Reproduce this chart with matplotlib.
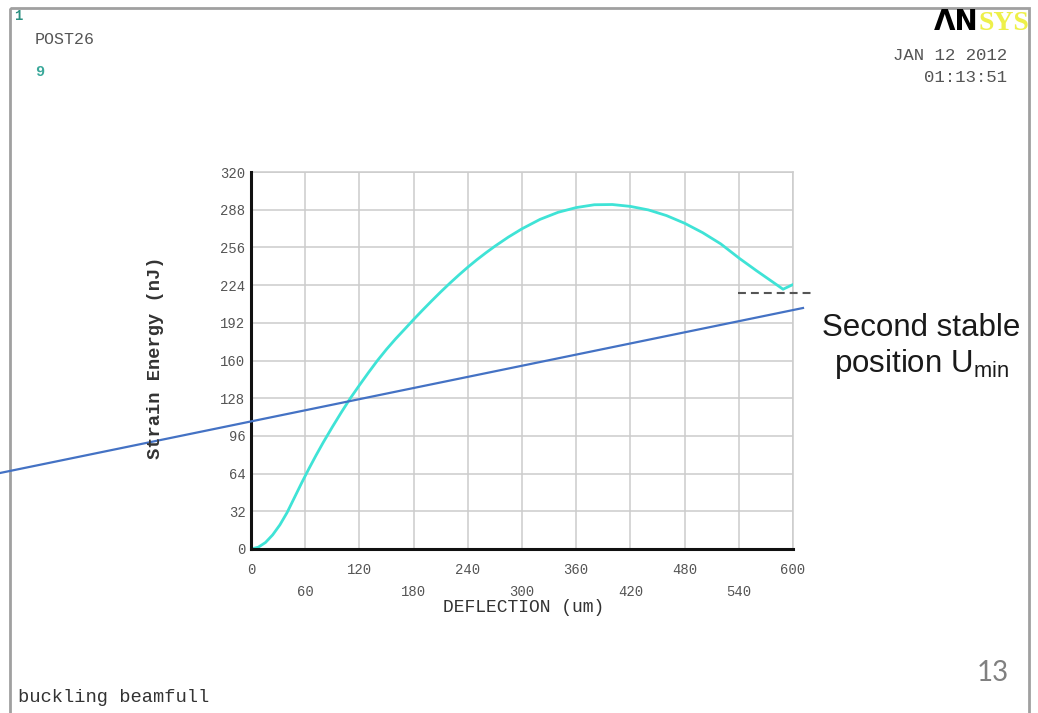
import matplotlib.pyplot as plt
from matplotlib.patches import Rectangle

plt.rcParams['mathtext.fontset'] = 'custom'
plt.rcParams['mathtext.rm'] = 'Liberation Sans'

# strain energy vs deflection
deflection = [0, 8, 16, 24, 32, 40, 48, 56, 64, 72, 80, 90, 100, 110, 120, 130, 140,
              150, 160, 170, 180, 190, 200, 210, 220, 230, 240, 250, 260, 270, 285,
              300, 320, 340, 360, 380, 400, 420, 440, 460, 480, 500, 520, 541, 560,
              575, 589, 600]
energy = [0, 1.5, 5.5, 12, 20.5, 31, 43.5, 56, 68, 79.5, 90.5, 103.5, 116, 128, 139,
          149.7, 160, 169.5, 178.3, 186.5, 194.8, 202.8, 210.6, 218.2, 225.5, 232.5,
          239.2, 245.5, 251.4, 257, 264.8, 271.8, 279.8, 285.8, 289.8, 292.2, 292.4,
          290.8, 287.8, 283, 276.5, 268.5, 259, 246.5, 236, 228, 220.5, 224.5]

xticks_even = [0, 120, 240, 360, 480, 600]
xticks_odd = [60, 180, 300, 420, 540]
yticks = [0, 32, 64, 96, 128, 160, 192, 224, 256, 288, 320]

W, H = 1038, 713
fig = plt.figure(figsize=(W / 100, H / 100), dpi=100)
fig.patch.set_facecolor('white')

mono = 'Liberation Mono'
gray = '#555555'

ax = fig.add_axes([251 / W, (H - 549) / H, 542 / W, 377 / H])
ax.plot(deflection, energy, color='#3fe3d6', lw=2.0, solid_capstyle='round',
        solid_joinstyle='round', zorder=3)
ax.set_xlim(0, 600)
ax.set_ylim(0, 320)

ax.set_xticks(xticks_even)
ax.set_xticks(xticks_odd, minor=True)
ax.set_yticks(yticks)
ax.set_xticklabels([str(v) for v in xticks_even])
ax.set_xticklabels([str(v) for v in xticks_odd], minor=True)
ax.tick_params(axis='x', which='major', length=0, pad=10, labelsize=10, labelcolor=gray)
ax.tick_params(axis='x', which='minor', length=0, pad=26, labelsize=10, labelcolor=gray)
ax.tick_params(axis='y', length=0, pad=4, labelsize=10, labelcolor=gray)
for lab in ax.get_xticklabels(which='both') + ax.get_yticklabels():
    lab.set_family(mono)

ax.grid(True, which='both', color='#cccccc', lw=1.1)
ax.set_axisbelow(True)
for s in ['top', 'right']:
    ax.spines[s].set_color('#cccccc')
    ax.spines[s].set_linewidth(1.1)
for s in ['left', 'bottom']:
    ax.spines[s].set_color('#111111')
    ax.spines[s].set_linewidth(2.2)
    ax.spines[s].set_zorder(4)

# overlay in pixel coordinates for the slide decorations
ov = fig.add_axes([0, 0, 1, 1], zorder=5)
ov.set_xlim(0, W)
ov.set_ylim(H, 0)
ov.axis('off')
ov.patch.set_alpha(0)

ov.add_patch(Rectangle((10, 8), 1019, 720, fill=False, ec='#a0a0a0', lw=2))

ov.text(14, 16, '1', family=mono, fontsize=10, weight='bold', color='#2a8f80', va='center')
ov.text(35, 40, 'POST26', family=mono, fontsize=12, color=gray, va='center')
ov.text(35, 72, '9', family=mono, fontsize=11, weight='bold', color='#3aa89a', va='center')

ov.text(978, 30, '\u039bN', family='DejaVu Sans', fontsize=20, weight='heavy',
        color='black', ha='right', va='baseline')
ov.text(978, 30, 'SYS', family='Liberation Serif', fontsize=20, weight='bold',
        color='#eef04a', ha='left', va='baseline')
ov.text(1007, 55, 'JAN 12 2012', family=mono, fontsize=12.5, color=gray, ha='right', va='center')
ov.text(1007, 77, '01:13:51', family=mono, fontsize=12.5, color=gray, ha='right', va='center')

ov.text(18, 697, 'buckling beamfull', family=mono, fontsize=13.5, color='#333333', va='center')
ov.text(993, 673, '13', family='Lato', fontsize=20, color='#808080', ha='center', va='center')

ov.text(524, 608, 'DEFLECTION (um)', family=mono, fontsize=13, color='#333333',
        ha='center', va='center')
ov.text(155, 358, 'Strain Energy (nJ)', family=mono, fontsize=13.5, weight='bold',
        color='#333333', ha='center', va='center', rotation=90)

# annotation
ov.plot([0, 803], [473, 308], color='#4472c4', lw=1.6)
ov.plot([738, 813], [293, 293], color='#555555', lw=1.5, dashes=(3.8, 2.4))
ov.text(921, 328, 'Second stable', family='Liberation Sans', fontsize=22.5,
        color='#1a1a1a', ha='center', va='center')
ov.text(922, 364, r'position U$_{\mathrm{min}}$', family='Liberation Sans', fontsize=22.5,
        color='#1a1a1a', ha='center', va='center')

fig.savefig('out.png', dpi=100)
